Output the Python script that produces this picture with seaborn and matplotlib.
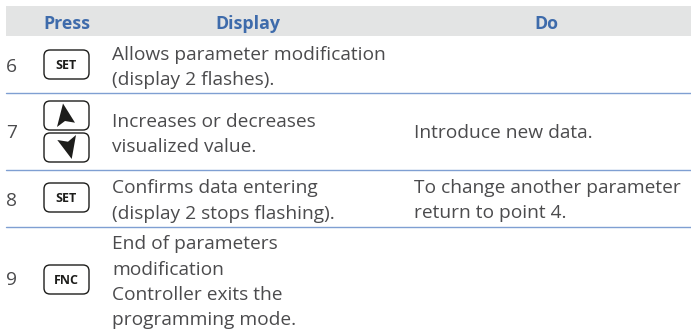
import matplotlib
matplotlib.use("Agg")
import matplotlib.pyplot as plt
from matplotlib.patches import FancyBboxPatch, Polygon, Rectangle
import seaborn as sns

# table content
headers = ["Press", "Display", "Do"]
steps = ["6", "7", "8", "9"]
keys = ["SET", "", "SET", "FNC"]
display_lines = [
    ["Allows parameter modification", "(display 2 flashes)."],
    ["Increases or decreases", "visualized value."],
    ["Confirms data entering", "(display 2 stops flashing)."],
    ["End of parameters", "modification", "Controller exits the", "programming mode."],
]
do_lines = [
    [],
    ["Introduce new data."],
    ["To change another parameter", "return to point 4."],
    [],
]

# layout, in pixels of the picture
header_x = [66.5, 248, 546.5]
step_base = [72, 138, 206, 285]
key_top = [50, None, 183, 265]
display_base = [[60, 85], [127, 152], [193, 219], [249, 275, 300, 325]]
do_base = [[], [138], [193, 218], []]
rule_y = [92.7, 169.7, 226.5]

TEXT = "#4b4b4d"
BLUE = "#3e6bab"
RULE = "#7f9fd2"
GREY = "#e3e4e4"
FS = 13.8

sns.set_theme(style="white")
plt.rcParams["font.family"] = ["Open Sans", "DejaVu Sans"]

fig = plt.figure(figsize=(6.91, 3.30), dpi=100)
ax = fig.add_axes([0, 0, 1, 1])


def key_box(top):
    ax.add_patch(FancyBboxPatch((46.5, top + 2.5), 40, 24, boxstyle="round,pad=2.5,rounding_size=6",
                                fc="white", ec="#1d1d1b", lw=1.0, zorder=3))


ax.add_patch(Rectangle((6, 6), 685, 30, fc=GREY, ec="none"))
for name, x in zip(headers, header_x):
    ax.text(x, 29, name, color=BLUE, fontsize=12.8, fontweight="bold", ha="center", va="baseline")

for y in rule_y:
    sns.lineplot(x=[6, 691], y=[y, y], color=RULE, lw=1.0, ax=ax, zorder=2)

for i, step in enumerate(steps):
    ax.text(6, step_base[i], step, color=TEXT, fontsize=FS, va="baseline")
    for line, y in zip(display_lines[i], display_base[i]):
        ax.text(112, y, line, color=TEXT, fontsize=FS, va="baseline")
    for line, y in zip(do_lines[i], do_base[i]):
        ax.text(414, y, line, color=TEXT, fontsize=FS, va="baseline")
    if keys[i]:
        key_box(key_top[i])
        ax.text(66.5, key_top[i] + 19, keys[i], color="#1d1d1b", fontsize=9, fontweight="bold",
                ha="center", va="baseline", zorder=4)

# up and down keys of step 7
key_box(101)
key_box(133)
ax.add_patch(Polygon([(63, 103.5), (57, 127), (65, 121), (75, 122.7)], fc="#1d1d1b", ec="none", zorder=4))
ax.add_patch(Polygon([(71.7, 159), (76, 135), (68, 141.7), (57.3, 140)], fc="#1d1d1b", ec="none", zorder=4))

ax.set_xlim(0, 691)
ax.set_ylim(330, 0)
ax.axis("off")
fig.savefig("out.png", dpi=100)
